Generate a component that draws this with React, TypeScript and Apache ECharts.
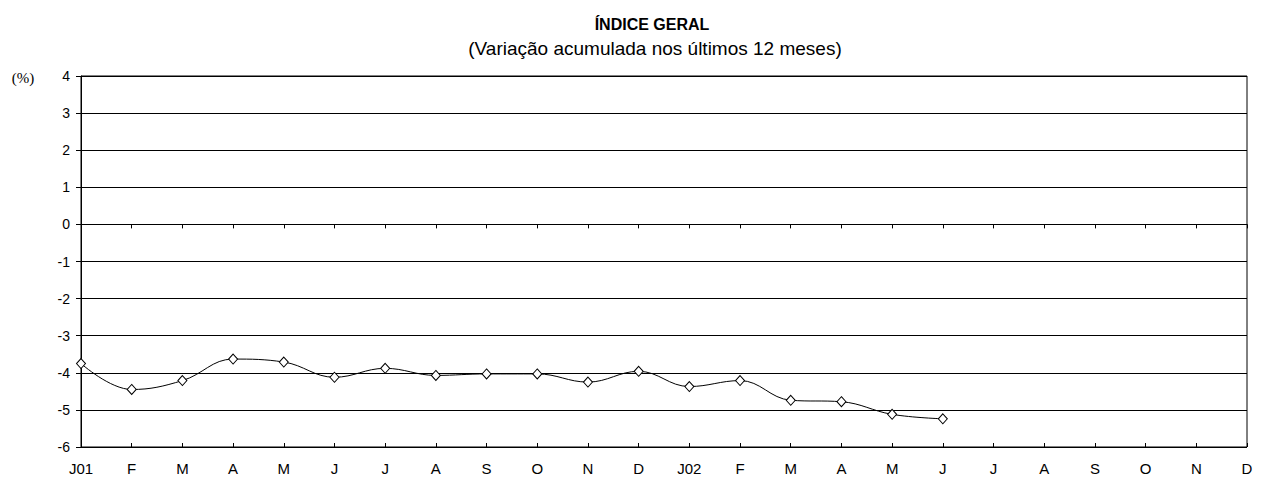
import React, { useEffect, useRef } from "react";
import * as echarts from "echarts";

const categories = ["J01","F","M","A","M","J","J","A","S","O","N","D","J02","F","M","A","M","J","J","A","S","O","N","D"];
const values: (number | null)[] = [-3.75,-4.45,-4.21,-3.63,-3.71,-4.12,-3.88,-4.07,-4.03,-4.03,-4.25,-3.96,-4.37,-4.21,-4.74,-4.78,-5.12,-5.24,null,null,null,null,null,null];
const titleText = "ÍNDICE GERAL";
const subtitleText = "(Variação acumulada nos últimos 12 meses)";
const unitText = "(%)";

export default function App() {
  const ref = useRef<HTMLDivElement>(null);
  useEffect(() => {
    const chart = echarts.init(ref.current!, null, { renderer: "svg" });
    const font = "'Liberation Sans', Arial, sans-serif";
    chart.setOption({
      animation: false,
      backgroundColor: "#fff",
      grid: { left: 81, right: 15, top: 76, bottom: 33, show: true, borderColor: "#000", borderWidth: 1, backgroundColor: "transparent" },
      graphic: [
        { type: "text", x: 652, y: 24, style: { text: titleText, font: `bold 16px ${font}`, fill: "#000", textAlign: "center", textVerticalAlign: "middle" } },
        { type: "text", x: 655, y: 48, style: { text: subtitleText, font: `19px ${font}`, fill: "#000", textAlign: "center", textVerticalAlign: "middle" } },
        { type: "text", x: 23, y: 78, style: { text: unitText, font: `15px 'Liberation Serif', 'Times New Roman', serif`, fill: "#000", textAlign: "center", textVerticalAlign: "middle" } },
      ],
      xAxis: [
        {
          type: "category", data: categories, boundaryGap: false,
          axisLine: { lineStyle: { color: "#000", width: 1 } },
          axisTick: { show: true, length: 4, lineStyle: { color: "#000" } },
          axisLabel: { color: "#000", fontFamily: font, fontSize: 15, margin: 14, interval: 0 },
          splitLine: { show: false },
        },
        {
          type: "category", data: categories, boundaryGap: false, position: "bottom",
          axisLine: { show: false },
          axisTick: { show: true, inside: true, length: 4, lineStyle: { color: "#000" } },
          axisLabel: { show: false },
          splitLine: { show: false },
        },
      ],
      yAxis: {
        type: "value", min: -6, max: 4, interval: 1,
        axisLine: { show: true, lineStyle: { color: "#000", width: 1 } },
        axisTick: { show: true, length: 5, lineStyle: { color: "#000" } },
        axisLabel: { color: "#000", fontFamily: font, fontSize: 14, margin: 11 },
        splitLine: { show: true, lineStyle: { color: "#000", width: 1 } },
      },
      series: [
        {
          type: "line", data: values, xAxisIndex: 0, smooth: 0.4,
          symbol: "diamond", symbolSize: [9, 10], showSymbol: true,
          lineStyle: { color: "#000", width: 1 },
          itemStyle: { color: "#fff", borderColor: "#000", borderWidth: 1 },
        },
      ],
    });
    return () => chart.dispose();
  }, []);
  return <div ref={ref} style={{ position: "fixed", left: 0, top: 0, width: 1262, height: 480 }} />;
}
